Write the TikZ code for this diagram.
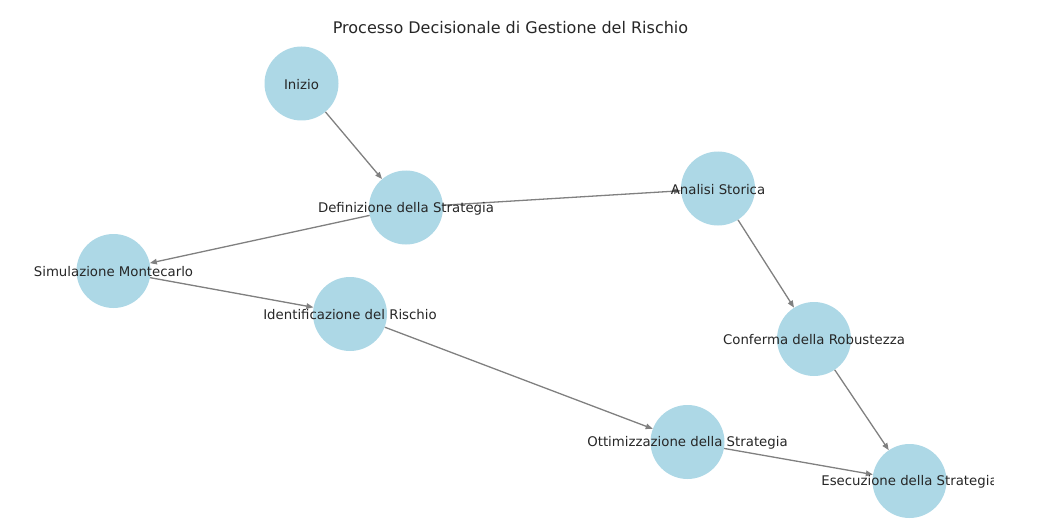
\documentclass[tikz,border=0pt]{standalone}
\usepackage{fontspec}
\setmainfont{DejaVu Sans}
\usetikzlibrary{arrows.meta}
\definecolor{nodeblue}{HTML}{ADD8E6}
\definecolor{edgegray}{HTML}{808080}
\definecolor{txt}{HTML}{262626}
\begin{document}
\begin{tikzpicture}[x=1pt,y=-1pt,
  state/.style={circle,fill=nodeblue,minimum size=74pt,inner sep=0pt},
  lab/.style={inner sep=0pt,text=txt,font=\fontsize{13.3}{14}\selectfont,yshift=-1pt},
  conn/.style={draw=edgegray,line width=1.3pt,-{Triangle[length=7pt,width=5.5pt]}}]
\useasboundingbox (0,0) rectangle (1055,532);
\node[inner sep=0pt,text=txt,font=\fontsize{16}{18}\selectfont] (title) at (510.5,28) {Processo Decisionale di Gestione del Rischio};
\begin{scope}
\clip (0,0) rectangle (993,532);
\node[state] (ini) at (301.5,83.5) {};
\node[state] (def) at (406,207.5) {};
\node[state] (ana) at (718,188.5) {};
\node[state] (sim) at (113.5,271) {};
\node[state] (ide) at (350,314) {};
\node[state] (con) at (814,339) {};
\node[state] (ott) at (687.5,442) {};
\node[state] (ese) at (909.5,481) {};
\draw[conn] (ini) -- (def);
\draw[conn] (def) -- (ana);
\draw[conn] (def) -- (sim);
\draw[conn] (ana) -- (con);
\draw[conn] (sim) -- (ide);
\draw[conn] (ide) -- (ott);
\draw[conn] (con) -- (ese);
\draw[conn] (ott) -- (ese);
\node[lab] (lini) at (ini.center) {Inizio};
\node[lab] (ldef) at (def.center) {Definizione della Strategia};
\node[lab] (lana) at (ana.center) {Analisi Storica};
\node[lab] (lsim) at (sim.center) {Simulazione Montecarlo};
\node[lab] (lide) at (ide.center) {Identificazione del Rischio};
\node[lab] (lcon) at (con.center) {Conferma della Robustezza};
\node[lab] (lott) at (ott.center) {Ottimizzazione della Strategia};
\node[lab] (lese) at (ese.center) {Esecuzione della Strategia};
\end{scope}
\end{tikzpicture}
\end{document}
